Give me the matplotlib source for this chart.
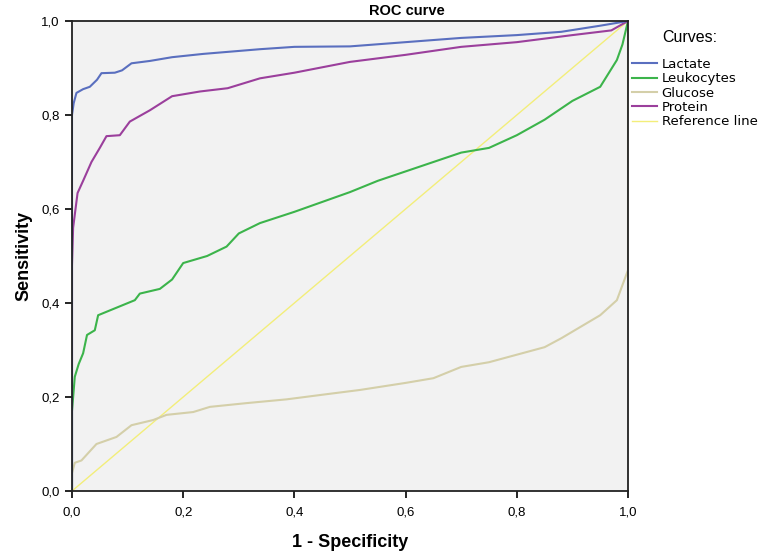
import matplotlib
matplotlib.use('Agg')
import matplotlib.pyplot as plt
from matplotlib.ticker import FuncFormatter

plt.rcParams['font.family'] = ['Liberation Sans', 'DejaVu Sans']

# ROC curves (1 - specificity, sensitivity)
lactate_x = [0.0, 0.0, 0.003, 0.008, 0.02, 0.032, 0.045, 0.053, 0.077, 0.09, 0.107, 0.14, 0.18,
             0.236, 0.338, 0.4, 0.5, 0.6, 0.7, 0.8, 0.88, 0.95, 1.0]
lactate_y = [0.0, 0.80, 0.825, 0.847, 0.855, 0.86, 0.875, 0.889, 0.89, 0.895, 0.91, 0.915, 0.923,
             0.93, 0.94, 0.945, 0.946, 0.955, 0.964, 0.97, 0.977, 0.99, 1.0]

leuko_x = [0.0, 0.0, 0.005, 0.012, 0.02, 0.027, 0.041, 0.047, 0.08, 0.113, 0.122, 0.158, 0.18,
           0.2, 0.243, 0.278, 0.3, 0.338, 0.4, 0.45, 0.5, 0.55, 0.6, 0.65, 0.7, 0.75, 0.8, 0.85,
           0.9, 0.95, 0.98, 0.99, 1.0]
leuko_y = [0.0, 0.17, 0.243, 0.27, 0.293, 0.332, 0.342, 0.374, 0.39, 0.406, 0.42, 0.43, 0.45,
           0.485, 0.50, 0.52, 0.548, 0.57, 0.594, 0.615, 0.636, 0.66, 0.68, 0.70, 0.72, 0.73,
           0.757, 0.79, 0.83, 0.86, 0.917, 0.95, 1.0]

glucose_x = [0.0, 0.0, 0.005, 0.017, 0.044, 0.08, 0.107, 0.146, 0.17, 0.218, 0.248, 0.314,
             0.386, 0.458, 0.518, 0.6, 0.65, 0.7, 0.75, 0.8, 0.85, 0.88, 0.92, 0.95, 0.98, 1.0, 1.0]
glucose_y = [0.0, 0.038, 0.06, 0.065, 0.10, 0.115, 0.14, 0.151, 0.162, 0.168, 0.179, 0.187,
             0.195, 0.206, 0.215, 0.23, 0.24, 0.264, 0.274, 0.29, 0.306, 0.325, 0.353, 0.374,
             0.406, 0.47, 1.0]

protein_x = [0.0, 0.0, 0.002, 0.01, 0.02, 0.035, 0.05, 0.062, 0.086, 0.104, 0.14, 0.18, 0.23,
             0.28, 0.338, 0.4, 0.5, 0.6, 0.7, 0.8, 0.9, 0.97, 1.0]
protein_y = [0.0, 0.48, 0.56, 0.634, 0.66, 0.70, 0.73, 0.755, 0.757, 0.786, 0.81, 0.84, 0.85,
             0.857, 0.878, 0.89, 0.913, 0.928, 0.945, 0.955, 0.97, 0.98, 1.0]

ref_x = [0.0, 1.0]
ref_y = [0.0, 1.0]

curve_names = ['Lactate', 'Leukocytes', 'Glucose', 'Protein', 'Reference line']
curve_colors = ['#5a6fbf', '#3cb44b', '#d4cfa9', '#9b3f9c', '#f3ee7a']
ticks = [0.0, 0.2, 0.4, 0.6, 0.8, 1.0]

fig = plt.figure(figsize=(7.64, 5.56), dpi=100)
ax = fig.add_axes([72 / 764, 1 - 491 / 556, (628 - 72) / 764, (491 - 21) / 556])
ax.set_facecolor('#f2f2f2')

series = [(lactate_x, lactate_y), (leuko_x, leuko_y), (glucose_x, glucose_y),
          (protein_x, protein_y), (ref_x, ref_y)]
# draw reference first so curves sit on top, keep legend order
handles = [None] * 5
for i in [4, 2, 1, 3, 0]:
    xs, ys = series[i]
    lw = 1.0 if i == 4 else 1.5
    handles[i], = ax.plot(xs, ys, color=curve_colors[i], lw=lw, label=curve_names[i])

ax.set_xlim(0, 1)
ax.set_ylim(0, 1)
ax.set_xticks(ticks)
ax.set_yticks(ticks)
fmt = FuncFormatter(lambda v, p: ('%.1f' % v).replace('.', ','))
ax.xaxis.set_major_formatter(fmt)
ax.yaxis.set_major_formatter(fmt)
ax.tick_params(direction='out', length=5, width=1.2, labelsize=9.5, colors='black', pad=4)
ax.tick_params(axis='x', pad=6)
for s in ax.spines.values():
    s.set_color('#222222')
    s.set_linewidth(1.3)

ax.set_xlabel('1 - Specificity', fontsize=13, fontweight='bold', labelpad=11)
ax.set_ylabel('Sensitivity', fontsize=13, fontweight='bold', labelpad=6)
fig.text(407 / 764, 1 - 11 / 556, 'ROC curve', fontsize=10.5, fontweight='bold',
         ha='center', va='center')

fig.text(690 / 764, 1 - 37 / 556, 'Curves:', fontsize=11.5, ha='center', va='center')
leg = fig.legend(handles=handles, labels=curve_names,
                 loc='upper left', bbox_to_anchor=(620 / 764, 1 - 46 / 556),
                 frameon=False, prop={'family': 'DejaVu Sans', 'size': 9.5},
                 handlelength=1.9, handletextpad=0.35, labelspacing=0.1)

fig.savefig('out.png', dpi=100)
